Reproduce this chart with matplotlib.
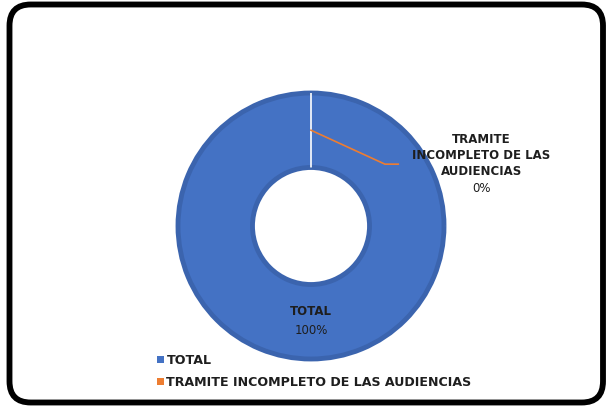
import numpy as np
import matplotlib.pyplot as plt
from matplotlib.patches import FancyBboxPatch, Patch

# Data
categories = ["TOTAL", "TRAMITE INCOMPLETO DE LAS AUDIENCIAS"]
label_names = ["TOTAL", "TRAMITE\nINCOMPLETO DE LAS\nAUDIENCIAS"]
values = [100, 0]
colors = ["#4472C4", "#ED7D31"]

W, H = 606, 407
fig = plt.figure(figsize=(W / 100, H / 100), dpi=100)

# rounded black frame around the whole picture
frame = FancyBboxPatch((9.5 / W, 4.5 / H), (603 - 9.5) / W, (402.5 - 4.5) / H,
                       boxstyle="round,pad=0,rounding_size=0.035",
                       transform=fig.transFigure, facecolor="white",
                       edgecolor="black", linewidth=4.2, mutation_aspect=W / H,
                       zorder=-10)
fig.patches.append(frame)

# donut centre (311, 226) px, radius 133 px
cx, cy, r = 311, 226, 133
ax = fig.add_axes([(cx - r) / W, (H - cy - r) / H, 2 * r / W, 2 * r / H])
ax.set_facecolor("none")

inner = 0.44
wedges, _ = ax.pie(values, colors=colors, startangle=90, counterclock=False,
                   radius=1, wedgeprops=dict(width=1 - inner, linewidth=0))
# darker rim like the Excel style
wedges[0].set_edgecolor("#3B64AE")
wedges[0].set_linewidth(3.5)
wedges[1].set_edgecolor("white")
wedges[1].set_linewidth(1.2)
ax.set_xlim(-1, 1)
ax.set_ylim(-1, 1)
ax.axis("off")

total = sum(values)
pcts = [f"{round(v / total * 100)}%" for v in values]
font = dict(family="DejaVu Sans", fontsize=8.5, color="#1e1e1e")

# TOTAL label inside the ring
ax.text(0, -0.645, label_names[0], ha="center", va="center",
        fontweight="bold", **font)
ax.text(0, -0.785, pcts[0], ha="center", va="center", **font)

# small slice label with leader line
ang = np.deg2rad((wedges[1].theta1 + wedges[1].theta2) / 2)
rm = (1 + inner) / 2
x0, y0 = rm * np.cos(ang), rm * np.sin(ang)
x1, y1 = x0 + 0.556, y0 - 0.255
x2 = x1 + 0.1
ax.plot([x0, x1, x2], [y0, y1, y1], color=colors[1], linewidth=1.2, clip_on=False)
ax.text(1.28, 0.53, label_names[1], ha="center", va="center",
        linespacing=1.3, fontweight="bold", **font)
ax.text(1.28, 0.285, pcts[1], ha="center", va="center", **font)

# legend in the lower left
handles = [Patch(facecolor=c, edgecolor="none") for c in colors]
leg = fig.legend(handles, categories, loc="upper left",
                 bbox_to_anchor=(157 / W, 1 - 354 / H), frameon=False,
                 handlelength=0.55, handleheight=0.55, handletextpad=0.2,
                 labelspacing=0.7, borderaxespad=0, borderpad=0,
                 prop=dict(family="DejaVu Sans", weight="bold", size=9.1))
for t in leg.get_texts():
    t.set_color("#1e1e1e")

fig.savefig("out.png", dpi=100)
